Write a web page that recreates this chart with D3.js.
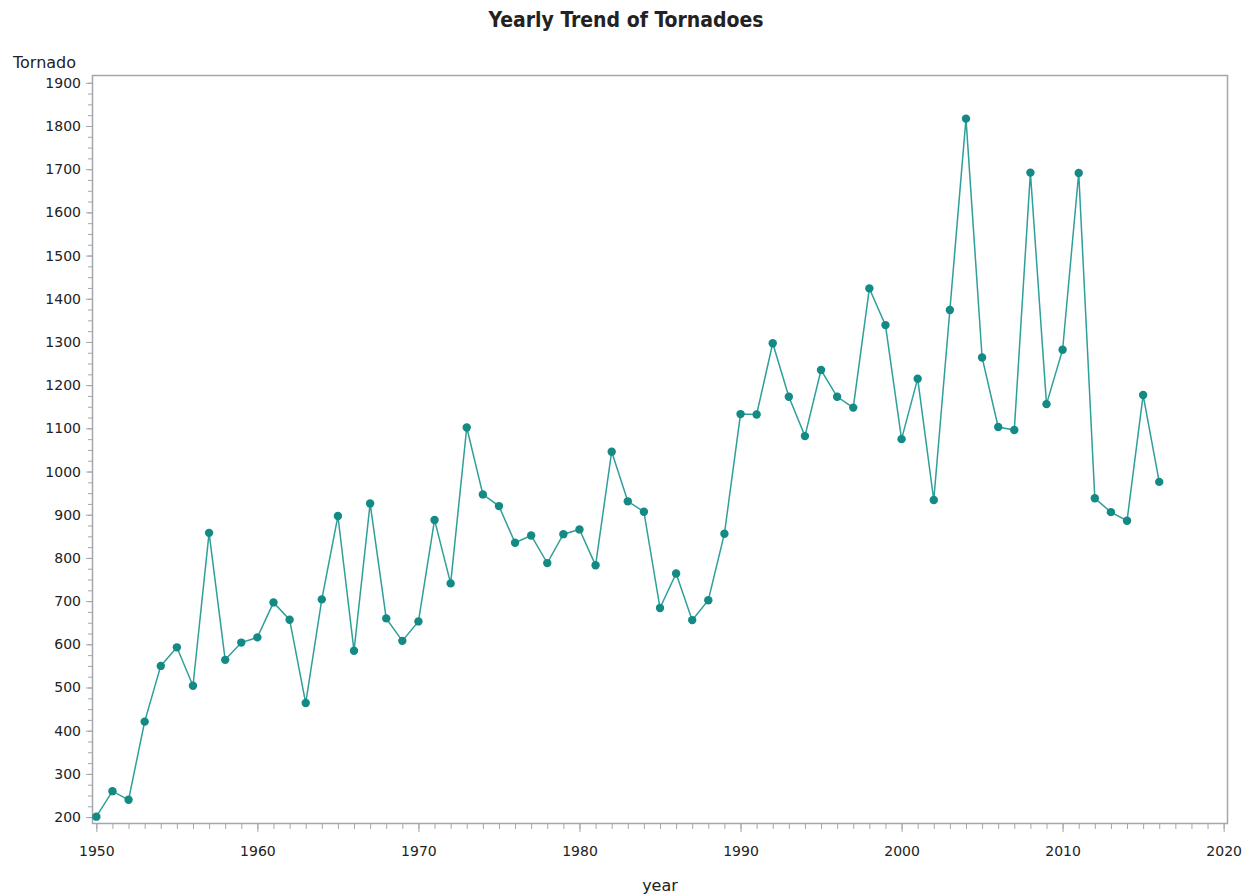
<!DOCTYPE html>
<html>
<head>
<meta charset="utf-8">
<script src="https://cdn.jsdelivr.net/npm/d3@7"></script>
<style>
  body { margin: 0; background: #fff; }
  text { font-family: "DejaVu Sans", sans-serif; fill: #222; }
</style>
</head>
<body>
<div id="chart"></div>
<script>
var years = d3.range(1950, 2017);
var tornadoes = [201, 260, 240, 421, 550, 593, 504, 858, 564, 604,
  616, 697, 657, 464, 704, 897, 585, 926, 660, 608,
  653, 888, 741, 1102, 947, 920, 835, 852, 788, 855,
  866, 783, 1046, 931, 907, 684, 764, 656, 702, 856,
  1133, 1132, 1297, 1173, 1082, 1235, 1173, 1148, 1424, 1339,
  1075, 1215, 934, 1374, 1817, 1264, 1103, 1096, 1692, 1156,
  1282, 1691, 938, 906, 886, 1177, 976];
var xTicks = [1950, 1960, 1970, 1980, 1990, 2000, 2010, 2020];
var yTicks = [200, 300, 400, 500, 600, 700, 800, 900, 1000, 1100, 1200, 1300, 1400, 1500, 1600, 1700, 1800, 1900];

function drawChart() {
  var width = 1250, height = 896;
  var margins = { left: 92, right: 22, top: 75, bottom: 72 };
  var frameWidth = width - margins.left - margins.right;
  var frameHeight = height - margins.top - margins.bottom;

  var svg = d3.select('#chart').append('svg')
    .attr('width', width)
    .attr('height', height);

  var g = svg.append('g')
    .attr('transform', 'translate(' + margins.left + ',' + margins.top + ')');

  var xScale = d3.scaleLinear()
    .domain([1949.73, 2020.27])
    .range([0, frameWidth]);

  var yScale = d3.scaleLinear()
    .domain([184, 1918])
    .range([frameHeight, 0]);

  var axisColor = '#a3a7ab';

  // minor ticks
  g.append('g')
    .attr('transform', 'translate(0,' + frameHeight + ')')
    .call(d3.axisBottom(xScale).tickValues(d3.range(1950, 2021)).tickSize(5).tickFormat(''))
    .call(function(a) { a.select('.domain').remove(); a.selectAll('line').attr('stroke', axisColor); });

  g.append('g')
    .call(d3.axisLeft(yScale).tickValues(d3.range(200, 1901, 25)).tickSize(4).tickFormat(''))
    .call(function(a) { a.select('.domain').remove(); a.selectAll('line').attr('stroke', axisColor); });

  // major ticks
  g.append('g')
    .attr('transform', 'translate(0,' + frameHeight + ')')
    .call(d3.axisBottom(xScale).tickValues(xTicks).tickSize(8).tickPadding(14).tickFormat(d3.format('d')))
    .call(function(a) {
      a.select('.domain').remove();
      a.selectAll('line').attr('stroke', axisColor);
      a.selectAll('text').style('font-size', '14px').style('font-family', '"DejaVu Sans", sans-serif').attr('fill', '#1a1a1a');
    });

  g.append('g')
    .call(d3.axisLeft(yScale).tickValues(yTicks).tickSize(6).tickPadding(5).tickFormat(d3.format('d')))
    .call(function(a) {
      a.select('.domain').remove();
      a.selectAll('line').attr('stroke', axisColor);
      a.selectAll('text').style('font-size', '14px').style('font-family', '"DejaVu Sans", sans-serif').attr('fill', '#1a1a1a');
    });

  // frame
  g.append('rect')
    .attr('x', 0.5)
    .attr('y', 0.5)
    .attr('width', frameWidth - 1)
    .attr('height', frameHeight - 1)
    .attr('fill', 'none')
    .attr('stroke', axisColor)
    .attr('stroke-width', 1.5);

  var data = years.map(function(y, i) { return { year: y, count: tornadoes[i] }; });

  var line = d3.line()
    .x(function(d) { return xScale(d.year); })
    .y(function(d) { return yScale(d.count); });

  g.append('path')
    .datum(data)
    .attr('d', line)
    .attr('fill', 'none')
    .attr('stroke', '#2f9f99')
    .attr('stroke-width', 1.5);

  g.selectAll('.pt')
    .data(data)
    .enter().append('circle')
    .attr('class', 'pt')
    .attr('cx', function(d) { return xScale(d.year); })
    .attr('cy', function(d) { return yScale(d.count); })
    .attr('r', 4.2)
    .attr('fill', '#138a84');

  // labels
  svg.append('text')
    .attr('x', 626)
    .attr('y', 27)
    .attr('text-anchor', 'middle')
    .style('font-family', '"DejaVu Sans Condensed", "DejaVu Sans", sans-serif')
    .style('font-stretch', 'condensed')
    .style('font-size', '21px')
    .style('font-weight', 'bold')
    .attr('fill', '#111')
    .text('Yearly Trend of Tornadoes');

  svg.append('text')
    .attr('x', 13)
    .attr('y', 68)
    .style('font-size', '16px')
    .text('Tornado');

  svg.append('text')
    .attr('x', margins.left + frameWidth / 2)
    .attr('y', 891)
    .attr('text-anchor', 'middle')
    .style('font-size', '16px')
    .text('year');
}

drawChart();
</script>
</body>
</html>
